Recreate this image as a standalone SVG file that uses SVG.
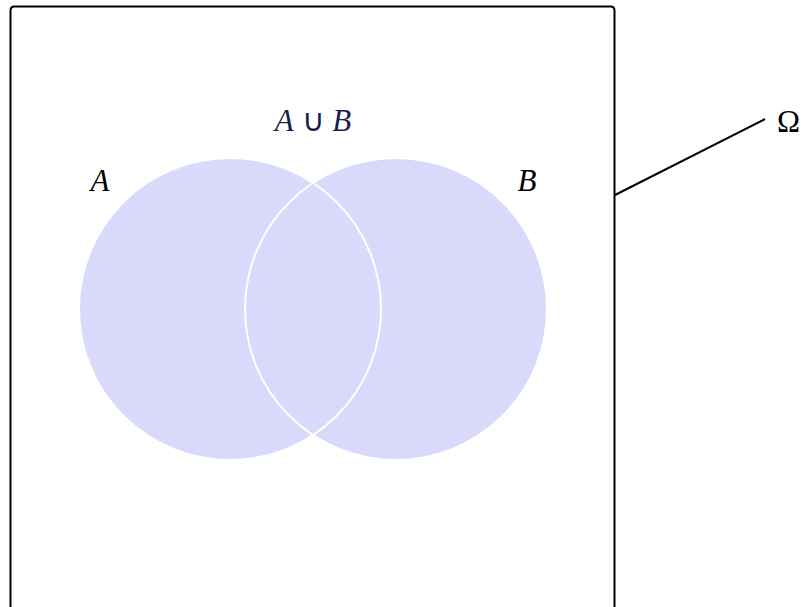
<svg xmlns="http://www.w3.org/2000/svg" width="801" height="607" viewBox="0 0 801 607">
<style>
.set{fill:#d9d9fb;stroke:none}
.edge{fill:none;stroke:#ffffff;stroke-width:2}
.tx{font-family:"Liberation Serif","Times New Roman",serif;font-size:31px}
.it{font-style:italic}
</style>
<rect width="801" height="607" fill="#ffffff"/>
<g id="omega">
<path d="M10.5,620 V10.5 Q10.5,6.5 14.5,6.5 H610.5 Q614.5,6.5 614.5,10.5 V620" fill="none" stroke="#000" stroke-width="2"/>
<text class="tx" x="777" y="132" fill="#000">Ω</text>
</g>
<g id="setA">
<circle class="set" cx="230" cy="309" r="151"/>
</g>
<g id="setB">
<circle class="set" cx="396" cy="309" r="151"/>
</g>
<g id="outlines">
<circle class="edge" cx="230" cy="309" r="151"/>
<circle class="edge" cx="396" cy="309" r="151"/>
</g>
<g id="labels">
<text class="tx it" x="100" y="191" text-anchor="middle" fill="#000">A</text>
<text class="tx it" x="527" y="191" text-anchor="middle" fill="#000">B</text>
<text class="tx" x="313" y="131" text-anchor="middle" fill="#1c1c50"><tspan class="it">A</tspan> ∪ <tspan class="it">B</tspan></text>
</g>
<g id="connectors">
<line x1="615" y1="195" x2="765" y2="119" stroke="#000" stroke-width="2"/>
</g>
</svg>
